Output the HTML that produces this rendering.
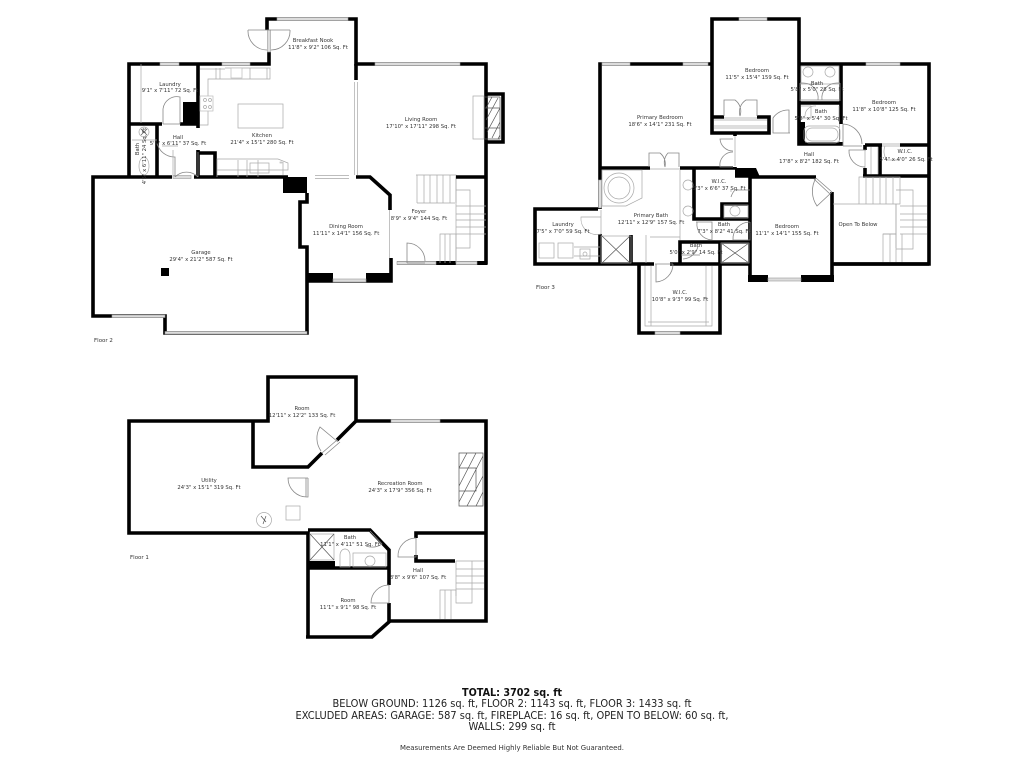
<!DOCTYPE html>
<html><head><meta charset="utf-8"><title>Floor plan</title>
<style>
html,body{margin:0;padding:0;background:#fff}
svg{display:block}
.w{fill:none;stroke:#000;stroke-width:3.6;stroke-linejoin:miter}
.l{fill:none;stroke:#a8a8a8;stroke-width:.7}
.d{fill:none;stroke:#888;stroke-width:.8}
.g{fill:#dcdcdc;stroke:#999;stroke-width:.6}
.e{fill:#fff;stroke:#bbb;stroke-width:.7}
.h{fill:none;stroke:#555;stroke-width:.7}
text{font-family:"DejaVu Sans","Liberation Sans",sans-serif;font-size:5.3px;fill:#333;text-anchor:middle}
.f{font-size:5.5px;text-anchor:start}
.s{font-size:10.2px;fill:#222}
.t{font-size:11px;font-weight:bold;fill:#111}
.m{font-size:7.2px}
</style></head><body>
<svg width="1024" height="768" viewBox="0 0 1024 768" xmlns="http://www.w3.org/2000/svg">
<rect width="1024" height="768" fill="#fff"/>

<!-- FLOOR 2 walls -->
<path class="w" d="M267 30V19H356V64H486V263H397M391 258V281H307M307 193V202H300V247H307V333H165V316H93V177H288M129 177V64H269V52"/>
<path class="w" d="M356 64V80M356 177H370L390 195V210M198 64V128M129 124H162M180 124H198M198 150V177M157 124V177M198 153H215V177"/>
<path d="M283 177H307V193H283ZM183 102H198V124H183ZM308 273H333V282H308ZM366 273H392V282H366ZM436 261H456V265H436ZM477 261H487V265H477Z" fill="#000"/>
<path d="M486 94H503V142H486" class="w" stroke-width="3"/>
<!-- floor 2 windows / openings -->
<rect class="g" x="277" y="17.500" width="71" height="3"/>
<rect class="g" x="160" y="62.500" width="19" height="3"/>
<rect class="g" x="222" y="62.500" width="28" height="3"/>
<rect class="g" x="375" y="62.500" width="85" height="3"/>
<rect class="g" x="333" y="279" width="33" height="3"/>
<rect class="g" x="397" y="261.500" width="39" height="3"/>
<rect class="g" x="456" y="261.500" width="21" height="3"/>
<rect class="g" x="112" y="315" width="53" height="2.500" fill="#eee"/>
<rect class="g" x="165" y="331.500" width="142" height="2.500"/>
<rect x="172" y="175" width="22" height="4" fill="#fff"/>
<rect class="g" x="173" y="175.500" width="18" height="3" fill="#eee"/>
<rect x="310" y="175" width="42" height="4" fill="#fff"/>
<path class="l" d="M315 175.500H349M315 178.500H349"/>
<rect x="354" y="82" width="4" height="93" fill="#fff"/>
<path class="l" d="M354.500 82V175M357.500 82V175M389.500 210V258"/>
<rect x="267" y="30" width="4" height="22" fill="#fff"/>
<rect class="g" x="267.500" y="30" width="3" height="22"/>
<!-- kitchen / doors f2 -->
<path class="d" d="M248 30A19 19 0 0 0 267 50M290 30A19 19 0 0 1 271 50M248 30H290"/>
<path class="l" d="M200 69H225M225 68H270V79H208V125H200M216 68V79M220 68V79M250 68V79M267 68V79"/>
<rect class="e" x="231" y="68" width="11" height="10"/>
<rect class="e" x="200" y="96" width="13" height="15"/>
<circle class="l" cx="205" cy="100" r="1.500"/><circle class="l" cx="210" cy="100" r="1.500"/><circle class="l" cx="205" cy="107" r="1.500"/><circle class="l" cx="210" cy="107" r="1.500"/>
<rect class="l" x="238" y="104" width="45" height="24"/>
<path class="l" d="M217 159H278L288 163V170H217ZM217 160V177M238 160V177M247 160V177M258 160V177M283 162V175"/>
<rect class="e" x="280" y="162" width="2" height="1"/>
<rect class="l" x="250" y="163" width="19" height="10"/>
<path class="d" d="M163 124V109A14 14 0 0 1 180 97V124H163M163 124H180"/>
<path class="l" d="M141 64V123"/>
<path class="l" d="M132 140H157"/>
<ellipse class="l" cx="144" cy="132" rx="5" ry="5"/><path class="h" d="M141 129L147 135M147 129L141 135"/>
<ellipse class="l" cx="144" cy="166" rx="5" ry="9"/>
<path class="d" d="M175 177V157A18 18 0 0 1 157 143M175 177A16 16 0 0 1 198 177M198 177V152"/>
<path class="l" d="M173 150V177M162 146H178"/>
<!-- fireplace living -->
<rect class="l" x="473" y="96" width="11" height="43"/>
<path class="h" d="M485 97H500M485 108H500M485 128H500M500 97V139M485 139H500M486 108L492 97M486 120L498 98M487 132L500 108M492 138L500 122M498 139L500 135"/>
<!-- stairs f2 -->
<path class="l" d="M416 175H456V177M417 175V203M417 203H455M424 175V203M430 175V203M437 175V203M443 175V203M450 175V203M456 175V203"/>
<path class="l" d="M456 190H470V248H456M456 177V263M456 206H486M456 214H486M456 220H486M456 227H486M456 234H486"/>
<path class="l" d="M440 263V234H456M445 234V263M450 234V263M456 234V263"/>
<path class="w" d="M456 177H486" stroke-width="3"/>
<path class="d" d="M407 263V243A18 18 0 0 1 425 261M407 263H425"/>

<!-- FLOOR 3 walls -->
<path class="w" d="M712 64V19H799V64H929V264H834M600 264V64H712V133H769V117H757M712 117H724M799 64V144H841V64M799 103H841"/>
<path class="w" d="M600 168H735V133M600 209H535V264H750V280M639 264V333H720V264M694 168V219H750M722 219V204H750V219M680 264V242H750M720 242V264M631 235V264M735 176H750M816 177H750V280M832 192V280M832 264H929"/>
<path class="w" d="M865 145H929M865 145V177M863 176H929M880 145V176"/>
<path d="M735 168H756L760 177H735ZM748 275H768V282H748ZM801 275H834V282H801ZM798 122H805V145H798Z" fill="#000"/>
<rect x="839.500" y="124" width="4" height="18" fill="#fff"/>
<rect x="863" y="150" width="4" height="18" fill="#fff"/>
<path class="l" d="M865 150V168"/>
<rect x="882" y="143" width="18" height="4" fill="#fff"/>
<path class="l" d="M882 144H900M882 146H900"/>
<!-- f3 windows -->
<rect class="g" x="739" y="17.500" width="28" height="3"/>
<rect class="g" x="602" y="62.500" width="28" height="3"/>
<rect class="g" x="683" y="62.500" width="25" height="3"/>
<rect class="g" x="866" y="62.500" width="34" height="3"/>
<rect class="g" x="768" y="278" width="33" height="3"/>
<rect class="g" x="655" y="331.500" width="25" height="3"/>
<rect class="g" x="598.500" y="180" width="3" height="28" fill="#ddd"/>
<rect x="650" y="166" width="30" height="4" fill="#fff"/>
<rect x="724" y="115" width="33" height="4" fill="#fff"/>
<path class="l" d="M724 118H757M650 169H680"/>
<path class="d" d="M649 167V153H660A14 14 0 0 1 665 167M679 167V153H668A14 14 0 0 0 665 167"/>
<path class="d" d="M724 116V100H735A14 14 0 0 1 740 116M757 116V100H746A14 14 0 0 0 740 116"/>
<rect x="733" y="136" width="4" height="31" fill="#fff"/>
<path class="l" d="M735 136V166"/>
<path class="d" d="M733 139H720A13 13 0 0 0 733 151M733 167H720A13 13 0 0 1 733 152"/>
<path class="l" d="M714 120H767M714 126H767M714 128H767"/>
<!-- master bath -->
<path class="l" d="M602 170H642V198L626 206H602Z"/><circle class="l" cx="619" cy="188" r="15"/><circle class="l" cx="619" cy="188" r="11"/>
<path class="l" d="M680 170V240M650 237H680M646 235V263"/>
<ellipse class="l" cx="688" cy="185" rx="5" ry="5"/><ellipse class="l" cx="688" cy="211" rx="5" ry="5"/>
<rect class="l" x="601" y="236" width="30" height="27"/><path class="h" d="M602 236L630 263M630 236L602 263"/>
<rect class="l" x="721" y="243" width="28" height="20"/><path class="h" d="M721 243L749 263M749 243L721 263"/>
<rect x="598" y="209" width="4" height="25" fill="#fff"/>
<path class="l" d="M601 210V234M601 217H581A16 16 0 0 0 601 234"/>
<rect class="l" x="539" y="243" width="15" height="15"/><rect class="l" x="558" y="243" width="15" height="15"/>
<path class="l" d="M574 247H600M574 256H600"/><rect class="l" x="580" y="249" width="10" height="10"/><circle class="l" cx="585" cy="254" r="2"/>
<!-- WIC f3 -->
<path class="l" d="M645 266V326H712V266M651 266V326M706 266V326M648 322H709M650 326H708"/>
<rect x="654" y="262" width="16" height="4" fill="#fff"/>
<path class="d" d="M656 264V282A18 18 0 0 0 673 264M655 264H673"/>
<!-- baths f3 -->
<path class="l" d="M731 189V192"/><circle class="l" cx="735" cy="211" r="5"/><rect class="l" x="724" y="205" width="24" height="13"/>
<path class="d" d="M750 190H735A17 17 0 0 0 731 197"/>
<path class="d" d="M750 222A17 17 0 0 0 733 240H750V222M712 240A16 16 0 0 1 697 222"/>
<path class="d" d="M696 222H712V240M681 255H700M683 259A16 16 0 0 0 698 246"/>
<!-- upper baths -->
<rect class="l" x="801" y="66" width="38" height="18"/>
<circle class="l" cx="808" cy="72" r="5"/><circle class="l" cx="830" cy="72" r="5"/>
<path class="d" d="M800 83V101M800 83H803A15 15 0 0 1 818 100M840 83V101M840 83H837A15 15 0 0 0 822 100M800 100H840"/>
<rect class="l" x="804" y="126" width="36" height="17" rx="5"/><rect class="l" x="806" y="128" width="32" height="13" rx="6"/>
<path class="l" d="M801 106H811V118H801M816 106A10 10 0 0 0 805 116M839 106V122"/>
<path class="d" d="M789 133H773V118A18 18 0 0 1 789 110V133M773 133H790"/>
<path class="d" d="M843 124V146M843 124A20 20 0 0 1 862 144M843 146H862"/>
<path class="d" d="M866 150H849A16 16 0 0 0 865 167"/>
<path class="l" d="M871 147V174M878 147V174M885 146A14 14 0 0 0 887 160L900 160"/>
<!-- bedroom door diagonal -->
<path class="d" d="M816 178L832 192M816 178A26 26 0 0 0 817 206L832 192M814 179L830 194"/>
<!-- stairs f3 / open -->
<path class="l" d="M859 177H900V204H859ZM866 177V204M873 177V204M880 177V204M886 177V204M893 177V204M833 204H896V248"/>
<path class="l" d="M896 190H913V249H896M900 206H927M900 214H927M900 220H927M900 227H927M900 234H927"/>
<path class="l" d="M883 262V234H896M890 234V262M896 234V262M902 234V262"/>
<path class="l" d="M896 204V234H883"/>

<!-- FLOOR 1 walls -->
<path class="w" d="M322 453L308 467H253V421H129V533H308V638M253 421H268V377H356V421H486V621H390L372 637H306M337 440L356 421"/>
<path class="w" d="M308 530H370L389 550V585M389 603V621M308 568H389M486 533H416V561H455M416 545V533"/>
<path d="M308 561H335V569H308Z" fill="#000"/>
<rect x="306" y="478" width="4" height="19" fill="#fff"/>
<rect x="387" y="585" width="4" height="18" fill="#fff"/>
<rect x="414" y="538" width="4" height="17" fill="#fff"/>
<rect class="g" x="391" y="419.500" width="49" height="3"/>
<path class="d" d="M322 453L337 440M325 455L340 442M321 451A22 22 0 0 1 320 427L338 442"/>
<path class="d" d="M308 478H288A19 19 0 0 0 308 497V478M306 478V497"/>
<rect class="l" x="286" y="506" width="14" height="14"/>
<circle class="l" cx="264" cy="520" r="7.500"/><path class="h" d="M261 516L266 522M266 516L263 524"/>
<path class="h" d="M459 453H483V506H459ZM459 468H476V491H459M459 468L467 453M459 486L476 453M459 502L483 456M467 506L483 476M476 506L483 492"/>
<path class="d" d="M416 538V557H398A18 18 0 0 1 416 538"/>
<path class="d" d="M389 585V603H371A18 18 0 0 1 389 585"/>
<rect class="l" x="310" y="534" width="24" height="26"/><path class="h" d="M310 534L334 560M334 534L310 560"/>
<path class="d" d="M366 546A18 18 0 0 0 382 544L370 531"/>
<rect class="l" x="353" y="553" width="33" height="14"/><circle class="l" cx="370" cy="561" r="5"/>
<path class="l" d="M340 567V555A5 6 0 0 1 350 555V567ZM342 567H348"/>
<path class="l" d="M456 561H484M456 569H484M456 576H484M456 583H484M456 589H484M456 596V561"/>
<path class="l" d="M440 619V590H456M445 590V619M451 590V619M456 590V603H472V561"/>

<!-- LABELS -->
<text x="313" y="42">Breakfast Nook</text>
<text x="318" y="49">11'8" x 9'2" 106 Sq. Ft</text>
<text x="170" y="86">Laundry</text>
<text x="170" y="92">9'1" x 7'11" 72 Sq. Ft</text>
<text x="178" y="139">Hall</text>
<text x="178" y="145">5'5" x 6'11" 37 Sq. Ft</text>
<text transform="translate(139,149) rotate(-90)">Bath</text>
<text transform="translate(146,156) rotate(-90)">4'5" x 6'11" 24 Sq. Ft</text>
<text x="262" y="137">Kitchen</text>
<text x="262" y="144">21'4" x 15'1" 280 Sq. Ft</text>
<text x="421" y="121">Living Room</text>
<text x="421" y="128">17'10" x 17'11" 298 Sq. Ft</text>
<text x="346" y="228">Dining Room</text>
<text x="346" y="235">11'11" x 14'1" 156 Sq. Ft</text>
<text x="419" y="213">Foyer</text>
<text x="419" y="220">8'9" x 9'4" 144 Sq. Ft</text>
<text x="201" y="254">Garage</text>
<text x="201" y="261">29'4" x 21'2" 587 Sq. Ft</text>
<rect x="161" y="268" width="8" height="8" fill="#000"/>
<text class="f" x="94" y="342">Floor 2</text>

<text x="757" y="72">Bedroom</text>
<text x="757" y="79">11'5" x 15'4" 159 Sq. Ft</text>
<text x="660" y="119">Primary Bedroom</text>
<text x="660" y="126">18'6" x 14'1" 231 Sq. Ft</text>
<text x="817" y="85">Bath</text>
<text x="817" y="91">5'8" x 5'0" 28 Sq. Ft</text>
<text x="821" y="113">Bath</text>
<text x="821" y="120">5'8" x 5'4" 30 Sq. Ft</text>
<text x="884" y="104">Bedroom</text>
<text x="884" y="111">11'8" x 10'8" 125 Sq. Ft</text>
<text x="809" y="156">Hall</text>
<text x="809" y="163">17'8" x 8'2" 182 Sq. Ft</text>
<text x="905" y="153">W.I.C.</text>
<text x="906" y="161">5'4" x 4'0" 26 Sq. Ft</text>
<text x="719" y="183">W.I.C.</text>
<text x="719" y="190">5'3" x 6'6" 37 Sq. Ft</text>
<text x="651" y="217">Primary Bath</text>
<text x="651" y="224">12'11" x 12'9" 157 Sq. Ft</text>
<text x="724" y="226">Bath</text>
<text x="724" y="233">7'3" x 8'2" 41 Sq. Ft</text>
<text x="696" y="247">Bath</text>
<text x="696" y="254">5'0" x 2'9" 14 Sq. Ft</text>
<text x="563" y="226">Laundry</text>
<text x="563" y="233">7'5" x 7'0" 59 Sq. Ft</text>
<text x="787" y="228">Bedroom</text>
<text x="787" y="235">11'1" x 14'1" 155 Sq. Ft</text>
<text x="858" y="226">Open To Below</text>
<text x="680" y="294">W.I.C.</text>
<text x="680" y="301">10'8" x 9'3" 99 Sq. Ft</text>
<text class="f" x="536" y="289">Floor 3</text>

<text x="302" y="410">Room</text>
<text x="302" y="417">12'11" x 12'2" 133 Sq. Ft</text>
<text x="209" y="482">Utility</text>
<text x="209" y="489">24'3" x 15'1" 319 Sq. Ft</text>
<text x="400" y="485">Recreation Room</text>
<text x="400" y="492">24'3" x 17'9" 356 Sq. Ft</text>
<text x="350" y="539">Bath</text>
<text x="350" y="546">11'1" x 4'11" 51 Sq. Ft</text>
<text x="418" y="572">Hall</text>
<text x="418" y="579">8'8" x 9'6" 107 Sq. Ft</text>
<text x="348" y="602">Room</text>
<text x="348" y="609">11'1" x 9'1" 98 Sq. Ft</text>
<text class="f" x="130" y="559">Floor 1</text>

<text class="s t" x="512" y="696" textLength="100" lengthAdjust="spacingAndGlyphs">TOTAL: 3702 sq. ft</text>
<text class="s" x="512" y="707" textLength="359" lengthAdjust="spacingAndGlyphs">BELOW GROUND: 1126 sq. ft, FLOOR 2: 1143 sq. ft, FLOOR 3: 1433 sq. ft</text>
<text class="s" x="512" y="719" textLength="433" lengthAdjust="spacingAndGlyphs">EXCLUDED AREAS: GARAGE: 587 sq. ft, FIREPLACE: 16 sq. ft, OPEN TO BELOW: 60 sq. ft,</text>
<text class="s" x="512" y="730" textLength="87" lengthAdjust="spacingAndGlyphs">WALLS: 299 sq. ft</text>
<text class="m" x="512" y="750" textLength="224" lengthAdjust="spacingAndGlyphs">Measurements Are Deemed Highly Reliable But Not Guaranteed.</text>
</svg>
</body></html>
